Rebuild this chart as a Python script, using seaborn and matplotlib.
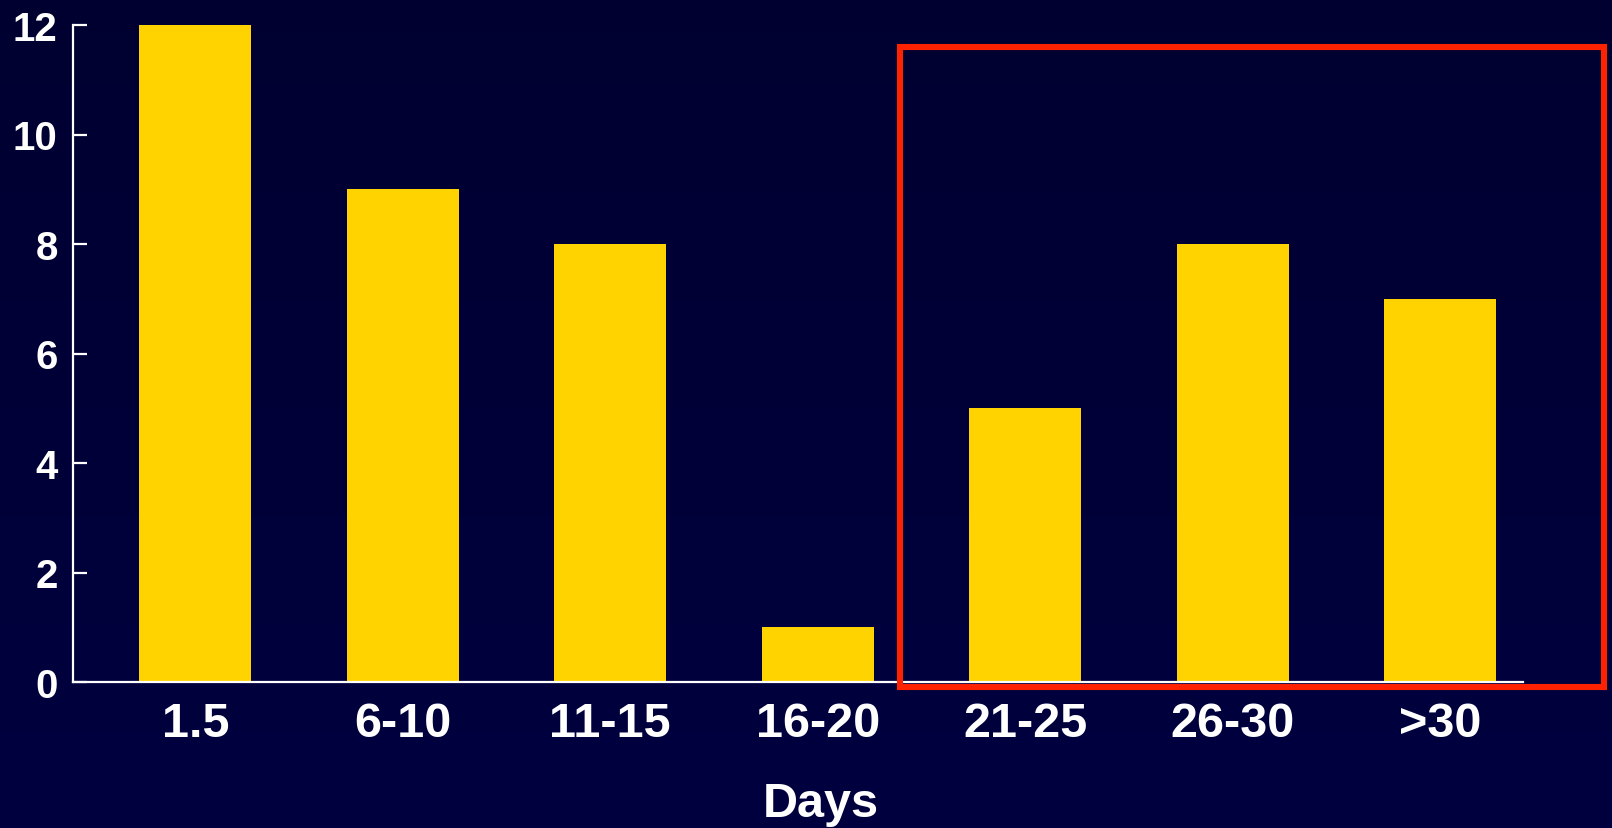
import numpy as np
import matplotlib
matplotlib.use("Agg")
import matplotlib.pyplot as plt
import matplotlib.patches as mpatches
import seaborn as sns

# Distribution of cases by duration (days)
categories = ["1.5", "6-10", "11-15", "16-20", "21-25", "26-30", ">30"]
counts = [12, 9, 8, 1, 5, 8, 7]
y_ticks = [0, 2, 4, 6, 8, 10, 12]

gold = "#FFD300"
white = "#FFFFFF"

sns.set_theme(style="white")
plt.rcParams["font.family"] = ["Liberation Sans", "DejaVu Sans"]
plt.rcParams["font.weight"] = "bold"

W, H = 1612, 829
fig = plt.figure(figsize=(W / 100, H / 100), dpi=100)

# Dark navy backdrop with a faint vertical gradient
bg = fig.add_axes([0, 0, 1, 1], zorder=-10)
grad = np.linspace(0, 1, 256).reshape(-1, 1)
top = np.array([0.0, 0.0, 0.19])
bot = np.array([0.0, 0.0, 0.25])
img = top + (bot - top) * grad[:, :, None]
bg.imshow(img, aspect="auto", extent=[0, 1, 0, 1], origin="upper")
bg.set_axis_off()

ax = fig.add_axes([73 / W, 1 - 683 / H, (1523 - 73) / W, (683 - 26) / H])
ax.set_facecolor("none")

sns.barplot(x=categories, y=counts, color=gold, saturation=1, width=0.54,
            edgecolor="none", linewidth=0, ax=ax)

ax.set_xlim(-0.59, len(categories) - 0.60)
ax.set_ylim(0, 12)
ax.set_yticks(y_ticks)

for side in ["top", "right"]:
    ax.spines[side].set_visible(False)
for side in ["left", "bottom"]:
    ax.spines[side].set_color(white)
    ax.spines[side].set_linewidth(1.6)

ax.tick_params(axis="y", direction="in", length=10, width=1.6, color=white,
               labelcolor=white, labelsize=29, pad=11, left=True)
ax.tick_params(axis="x", length=0, labelcolor=white, labelsize=35, pad=14)
for lbl in ax.get_xticklabels() + ax.get_yticklabels():
    lbl.set_fontweight("bold")

ax.set_ylabel("")
ax.set_xlabel("Days", color=white, fontsize=35, fontweight="bold")
ax.xaxis.set_label_coords((821 - 73) / 1450, (683 - 782) / 657)

# Highlight box around the later categories
rect = mpatches.Rectangle((900 / W, 1 - 688 / H), (1604 - 900) / W, (688 - 48) / H,
                          transform=fig.transFigure, fill=False,
                          edgecolor="#FF2200", linewidth=4.4, clip_on=False, zorder=20)
fig.patches.append(rect)

fig.savefig("out.png", dpi=100, facecolor="#000033")
